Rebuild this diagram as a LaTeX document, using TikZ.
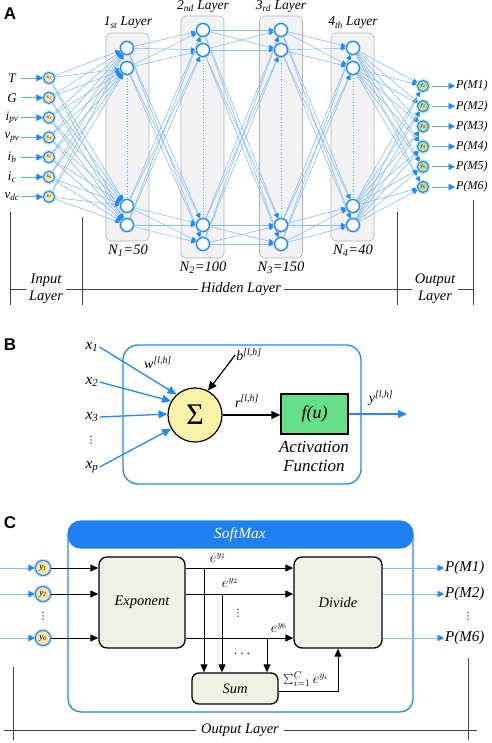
\documentclass[tikz,border=0pt]{standalone}
\usepackage{fontspec}
\setmainfont{Liberation Serif}
\newfontfamily\panelfont{Liberation Sans}
\newfontfamily\dotsfont{DejaVu Sans}
\newfontfamily\timesit{Liberation Serif Italic}
\newfontfamily\timesrm{Liberation Serif}
\usetikzlibrary{arrows.meta,calc}
\pgfdeclarelayer{back}
\pgfdeclarelayer{mid}
\pgfsetlayers{back,mid,main}
\newcommand{\myfs}[1]{\fontsize{#1}{#1}\selectfont}
\newcommand{\vdts}{{\dotsfont\myfs{10}⋮}}
\definecolor{myblue}{HTML}{1E88FF}
\definecolor{lineblue}{HTML}{86BCFF}
\definecolor{glowblue}{HTML}{BFDCFF}
\definecolor{inyellow}{HTML}{FBE7A3}
\definecolor{outgreen}{HTML}{C5DC94}
\definecolor{layergray}{HTML}{F3F3F3}
\definecolor{layeredge}{HTML}{B0B0B0}
\definecolor{sigyellow}{HTML}{F9F2A8}
\definecolor{fugreen}{HTML}{66DD88}
\definecolor{boxgreen}{HTML}{EEF1E3}
\definecolor{headblue}{HTML}{1F80F0}
\tikzset{
 hid/.style={circle,draw=myblue,line width=1.3pt,fill=white,minimum size=13pt,inner sep=0pt,preaction={draw=glowblue,line width=2.5pt}},
 innode/.style={circle,draw=myblue,line width=1.1pt,fill=inyellow,minimum size=11pt,inner sep=0pt,font=\myfs{5.5}\itshape,preaction={draw=glowblue,line width=3.5pt}},
 outnode/.style={innode,fill=outgreen},
 cnode/.style={innode,minimum size=15pt,font=\myfs{9}\itshape},
 conn/.style={draw=lineblue,line width=0.6pt,-{Triangle[length=5pt,width=4.5pt,color=myblue]}},
 inarrow/.style={draw=myblue!70,line width=0.9pt,-{Triangle[length=6.5pt,width=6.5pt,color=myblue]}},
 layerbox/.style={draw=layeredge,fill=layergray,rounded corners=5pt,line width=0.6pt},
 vlab/.style={font=\myfs{13}\itshape,inner sep=1pt},
 laytitle/.style={font=\myfs{13.5}\itshape,inner sep=1pt},
 nlab/.style={font=\myfs{14.5}\itshape,inner sep=1pt},
 plab/.style={font=\myfs{12}\itshape,inner sep=1pt},
 brack/.style={draw=black!75,line width=1pt},
 bracklab/.style={font=\fontsize{14.5}{17}\selectfont\itshape,fill=white,inner sep=3pt,align=center},
 panel/.style={font=\panelfont\bfseries\myfs{17}},
 bluebox/.style={draw=myblue,line width=1.3pt,rounded corners=15pt},
 bluearrow/.style={draw=myblue,line width=1.3pt,-{Triangle[length=9pt,width=8pt]}},
 blackarrow/.style={draw=black,line width=1.2pt,-{Triangle[length=9pt,width=8pt]}},
 blab/.style={font=\myfs{15.5}\itshape,inner sep=1pt},
 dotlab/.style={inner sep=0pt},
 bsmall/.style={font=\myfs{14}\itshape,inner sep=1pt},
 cbox/.style={draw=black,line width=1.3pt,fill=boxgreen,rounded corners=8pt,font=\myfs{14.5}\itshape,inner sep=0pt},
 carrow/.style={draw=black,line width=1pt,-{Triangle[length=8pt,width=7pt]}},
 clab/.style={font=\myfs{13.5},inner sep=1pt},
 pclab/.style={font=\myfs{15}\itshape,inner sep=1pt},
}
\begin{document}
\begin{tikzpicture}[x=1pt,y=-1pt]
\useasboundingbox (0,0) rectangle (491,743);

%%%%%%%%%%%%%%%% Panel A
\node[panel] (pA) at (10,14) {A};

\begin{pgfonlayer}{back}
\draw[layerbox] (106,33) rectangle (149,241);
\draw[layerbox] (181,16) rectangle (224,258);
\draw[layerbox] (259.5,16) rectangle (302.5,258);
\draw[layerbox] (331,33) rectangle (374,241);
\end{pgfonlayer}

\node[laytitle] (t1) at (128,23) {1\textsubscript{st} Layer};
\node[laytitle] (t2) at (203,6.5) {2\textsubscript{nd} Layer};
\node[laytitle] (t3) at (281,6.5) {3\textsubscript{rd} Layer};
\node[laytitle] (t4) at (353,23) {4\textsubscript{th} Layer};
\node[nlab] (n1) at (128,251) {N\textsubscript{1}=50};
\node[nlab] (n2) at (203,268) {N\textsubscript{2}=100};
\node[nlab] (n3) at (281,268) {N\textsubscript{3}=150};
\node[nlab] (n4) at (353,251) {N\textsubscript{4}=40};

% inputs
\foreach \y/\t [count=\i] in {78/T,97.8/G,117.6/i\textsubscript{pv},137.4/v\textsubscript{pv},157.2/i\textsubscript{b},177/i\textsubscript{c},196.8/v\textsubscript{dc}} {
  \node[innode] (in\i) at (49,\y) {x\textsubscript{\i}};
  \node[vlab] (lab\i) at (12,\y) {\t};
  \coordinate (is\i) at (21,\y);
  \draw[inarrow] (is\i) -- (in\i);
}

% hidden layers
\foreach \L/\x/\ya/\yb/\yc/\yd in {1/127/48/68/206/225, 2/203/30/50/225/244, 3/281/30/50/225/244, 4/353/48/68/206/225} {
  \node[hid] (h\L1) at (\x,\ya) {};
  \node[hid] (h\L2) at (\x,\yb) {};
  \node[hid] (h\L3) at (\x,\yc) {};
  \node[hid] (h\L4) at (\x,\yd) {};
  \draw[myblue!70,dotted,line width=0.7pt] (h\L2) -- (h\L3);
}

% outputs
\foreach \y [count=\k] in {86,106.2,126.4,146.6,166.8,187} {
  \node[outnode] (out\k) at (423,\y) {y\textsubscript{\k}};
  \node[plab,anchor=west] (p\k) at (455,\y) {P(M\k)};
  \draw[inarrow,shorten <=3pt] (out\k) -- (p\k.west);
}

\begin{pgfonlayer}{mid}
\foreach \i in {1,...,7} \foreach \j in {1,...,4} \draw[conn] (in\i) -- (h1\j);
\foreach \L/\M in {1/2,2/3,3/4} \foreach \i in {1,...,4} \foreach \j in {1,...,4} \draw[conn] (h\L\i) -- (h\M\j);
\foreach \i in {1,...,4} \foreach \j in {1,...,6} \draw[conn] (h4\i) -- (out\j);
\end{pgfonlayer}

% bracket A
\coordinate (aL1) at (10,212); \coordinate (aL2) at (10,305);
\coordinate (aM1) at (82,217); \coordinate (aM2) at (82,305);
\coordinate (aN1) at (397,212); \coordinate (aN2) at (397,305);
\coordinate (aR1) at (473,200); \coordinate (aR2) at (473,305);
\coordinate (aH1) at (10,289); \coordinate (aH2) at (473,289);
\draw[brack] (aL1) -- (aL2);
\draw[brack] (aM1) -- (aM2);
\draw[brack] (aN1) -- (aN2);
\draw[brack] (aR1) -- (aR2);
\draw[brack] (aH1) -- (aH2);
\node[bracklab] (inl) at (46,289) {Input\\Layer};
\node[bracklab] (hidl) at (241,289) {Hidden Layer};
\node[bracklab] (outl) at (435,289) {Output\\Layer};

%%%%%%%%%%%%%%%% Panel B
\node[panel] (pB) at (10,345) {B};
\draw[bluebox] (123,345) rectangle (361,484);
\node[circle,draw=black,line width=1.2pt,fill=sigyellow,minimum size=54pt,inner sep=0pt,font=\timesrm\myfs{30}] (sig) at (195,415) {Σ};
\node[blab] (x1) at (92,347) {x\textsubscript{1}};
\node[blab] (x2) at (92,382) {x\textsubscript{2}};
\node[blab] (x3) at (92,417) {x\textsubscript{3}};
\node[dotlab] (xd) at (91,440) {\vdts};
\node[blab] (xp) at (92,467) {x\textsubscript{p}};
\draw[bluearrow] (x1.east) -- (sig.132);
\draw[bluearrow] (x2.east) -- (sig.150);
\draw[bluearrow] (x3.east) -- (sig.178);
\draw[bluearrow] (xp.east) -- (sig.210);
\node[bsmall] (w) at (158,363) {w\textsuperscript{[l,h]}};
\node[bsmall] (b) at (249,355) {b\textsuperscript{[l,h]}};
\draw[blackarrow] (b.west) -- (sig.62);
\node[bsmall] (r) at (247,401) {r\textsuperscript{[l,h]}};
\node[draw=black,line width=1.3pt,fill=fugreen,minimum width=67pt,minimum height=40pt,inner sep=0pt,font=\timesit\myfs{18}] (fu) at (314.5,414) {f(u)};
\draw[blackarrow] (sig.east) -- (sig.east -| fu.west);
\coordinate (yo) at (407,414);
\draw[bluearrow] (fu.east) -- (yo);
\node[bsmall] (yl) at (381,398) {y\textsuperscript{[l,h]}};
\node[font=\timesit\fontsize{17}{19}\selectfont,align=center,inner sep=0pt] (act) at (314,456) {Activation\\Function};

%%%%%%%%%%%%%%%% Panel C
\node[panel] (pC) at (10,523) {C};
\draw[bluebox,rounded corners=13pt] (68,521) rectangle (413,712);
\fill[headblue,rounded corners=12pt] (68,521) rectangle (413,548.5);
\node[font=\myfs{15.5}\itshape,text=white] (smax) at (240,535) {SoftMax};

\node[cbox,minimum width=86pt,minimum height=91pt] (exp) at (142,602.5) {Exponent};
\node[cbox,minimum width=88pt,minimum height=91pt] (div) at (338,602.5) {Divide};
\node[cbox,minimum width=86pt,minimum height=31pt,rounded corners=7pt] (sum) at (235,688.5) {Sum};

\node[cnode] (cy1) at (43,568) {y\textsubscript{1}};
\node[cnode] (cy2) at (43,594) {y\textsubscript{2}};
\node[dotlab] (cyd) at (43,616) {\vdts};
\node[cnode] (cy6) at (43,638) {y\textsubscript{6}};
\coordinate (ci1) at (0,568);
\coordinate (ci2) at (0,594);
\coordinate (ci6) at (0,638);
\foreach \k in {1,2,6} {
  \draw[inarrow,draw=myblue!55] (ci\k) -- (cy\k);
  \draw[carrow] (cy\k) -- (cy\k -| exp.west);
  \draw[carrow] (cy\k -| exp.east) -- (cy\k -| div.west);
}
\coordinate (br1) at (204,568);
\coordinate (br2) at (222,594);
\coordinate (br6) at (267,638);
\foreach \k in {1,2,6} \draw[carrow] (br\k) -- (br\k |- sum.north);
\draw[carrow] ([yshift=-3pt]sum.east) -| (div.south);

\node[clab] (e1) at (218,558) {$e^{y_1}$};
\node[clab] (e2) at (230,583) {$e^{y_2}$};
\node[dotlab] (ed) at (238,613) {\vdts};
\node[clab] (e6) at (279,628) {$e^{y_6}$};
\node[clab] (ed2) at (242,654) {$\cdots$};
\node[font=\myfs{14},inner sep=0pt,anchor=west] (sl) at (283,679) {$\sum_{i=1}^{C} e^{y_i}$};

\node[pclab,anchor=west] (pc1) at (444,568) {P(M1)};
\node[pclab,anchor=west] (pc2) at (444,594) {P(M2)};
\node[dotlab] (pcd) at (468,616) {\vdts};
\node[pclab,anchor=west] (pc6) at (444,638) {P(M6)};
\draw[inarrow,draw=myblue!55] (cy1 -| div.east) -- (pc1.west);
\draw[inarrow,draw=myblue!55] (cy2 -| div.east) -- (pc2.west);
\draw[inarrow,draw=myblue!55] (cy6 -| div.east) -- (pc6.west);

% bracket C
\coordinate (cL1) at (13,667); \coordinate (cL2) at (13,740);
\coordinate (cR1) at (468,658); \coordinate (cR2) at (468,740);
\coordinate (cH1) at (4,730); \coordinate (cH2) at (477,730);
\draw[brack] (cL1) -- (cL2);
\draw[brack] (cR1) -- (cR2);
\draw[brack] (cH1) -- (cH2);
\node[bracklab,inner sep=5pt] (outlc) at (240,730) {Output Layer};
\end{tikzpicture}
\end{document}
